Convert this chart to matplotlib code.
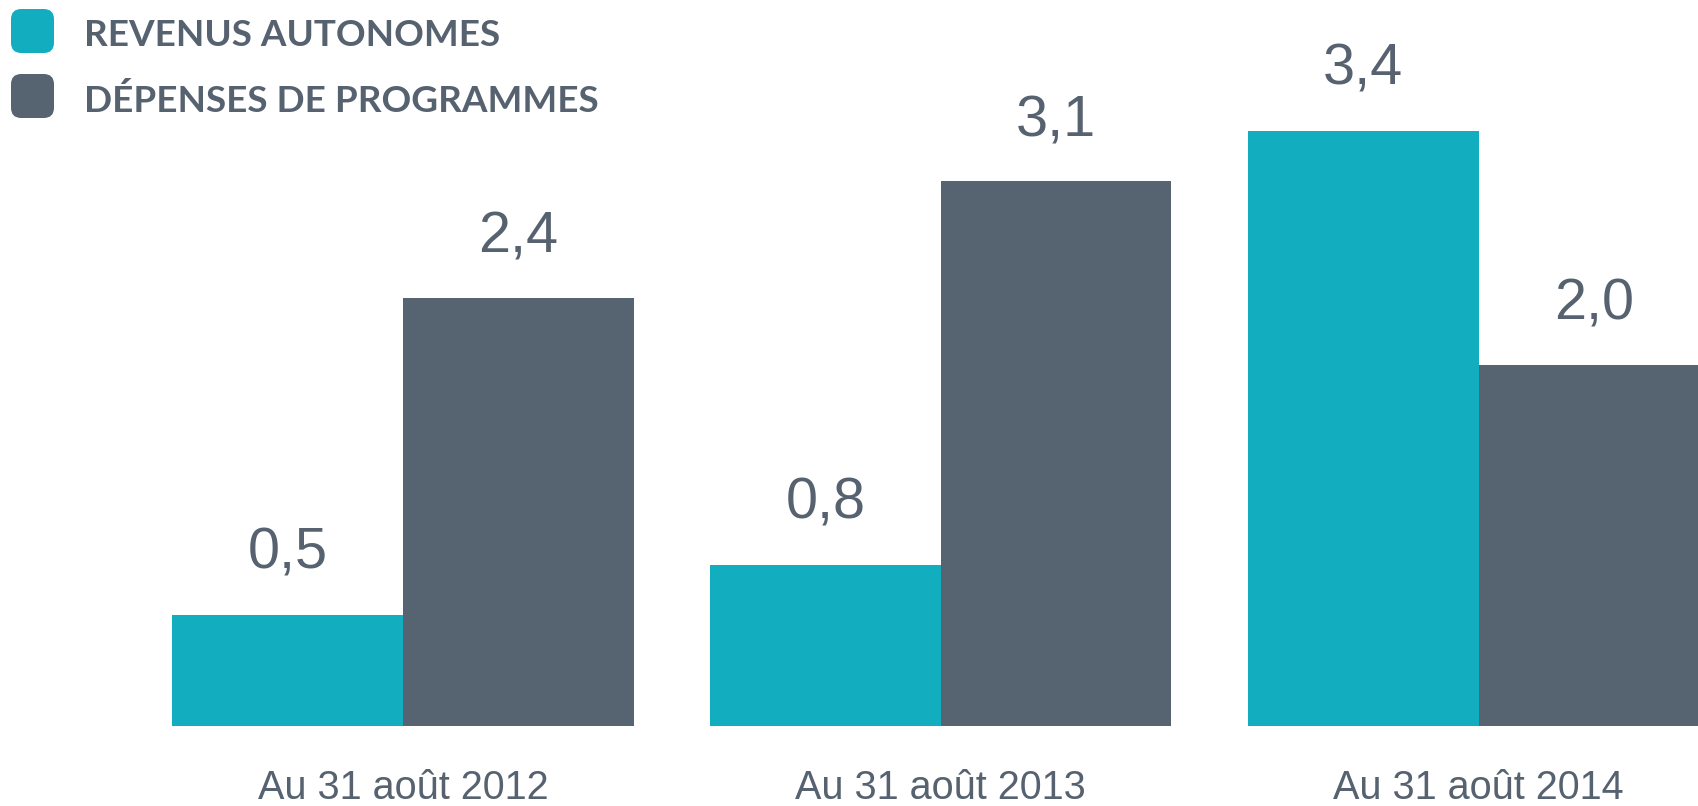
import matplotlib
matplotlib.use("Agg")
import matplotlib.pyplot as plt
from matplotlib.patches import FancyBboxPatch
import numpy as np

categories = ["Au 31 août 2012", "Au 31 août 2013", "Au 31 août 2014"]
revenus = [0.5, 0.8, 3.4]
depenses = [2.4, 3.1, 2.0]
series_names = ["REVENUS AUTONOMES", "DÉPENSES DE PROGRAMMES"]

TEAL = "#12adbf"
DARK = "#566472"
TEXT = "#56626f"

W, H = 1699, 806
fig = plt.figure(figsize=(W / 100, H / 100), dpi=100)
ax = fig.add_axes([0, 0, 1, 1])
ax.set_axis_off()

x = np.arange(len(categories))
w = 0.429
base = -0.165
ax.bar(x - w / 2, np.array(revenus) - base, bottom=base, width=w, color=TEAL, linewidth=0)
ax.bar(x + w / 2, np.array(depenses) - base, bottom=base, width=w, color=DARK, linewidth=0)

ax.set_xlim(-0.7495, 2.410)
ax.set_ylim(-0.644, 4.185)

fmt = lambda v: f"{v:.1f}".replace(".", ",")
for xi, v in zip(x - w / 2, revenus):
    ax.text(xi, v + 0.28, fmt(v), ha="center", va="baseline",
            fontsize=41.5, color=TEXT, family="Liberation Sans")
for xi, v in zip(x + w / 2, depenses):
    ax.text(xi, v + 0.27, fmt(v), ha="center", va="baseline",
            fontsize=41.5, color=TEXT, family="Liberation Sans")

trans = matplotlib.transforms.blended_transform_factory(ax.transData, fig.transFigure)
for xi, c in zip(x, categories):
    ax.text(xi, 1 - 788 / H, c, ha="center", va="center", fontsize=28.5,
            color=TEXT, family="Liberation Sans", transform=trans)

# legend
for (y0, col, name) in [(9, TEAL, series_names[0]), (74, DARK, series_names[1])]:
    sq = FancyBboxPatch((11 / W, 1 - (y0 + 44) / H), 43 / W, 44 / H,
                        boxstyle="round,pad=0,rounding_size=0.006",
                        transform=fig.transFigure, facecolor=col, edgecolor="none",
                        mutation_aspect=W / H)
    fig.patches.append(sq)
    fig.text(84 / W, 1 - (y0 + 27) / H, name, ha="left", va="center",
             fontsize=26.6, fontweight="bold", color=TEXT, family="Lato")

fig.savefig("out.png", dpi=100)
